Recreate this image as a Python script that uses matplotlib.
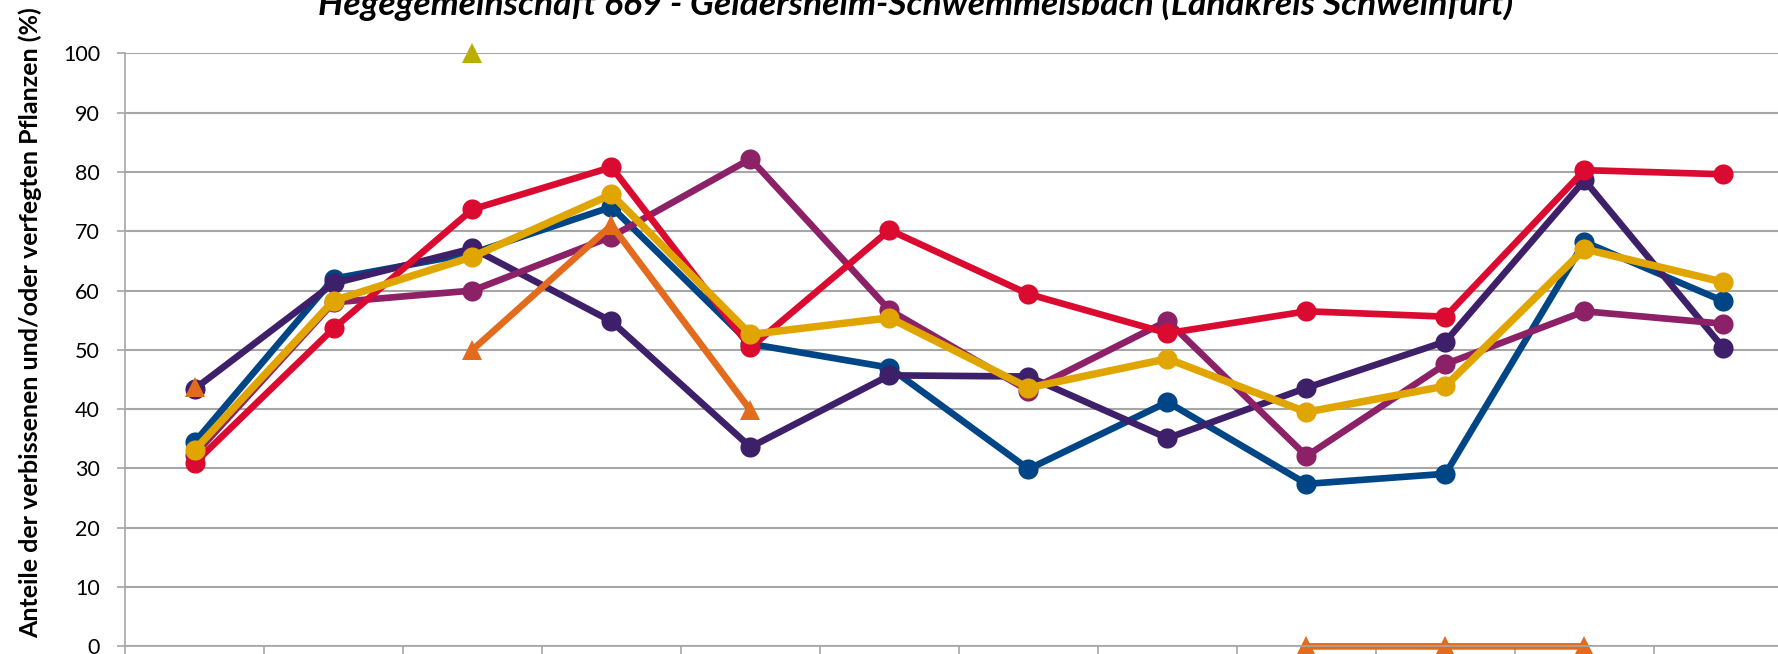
import numpy as np
import matplotlib
matplotlib.use("Agg")
import matplotlib.pyplot as plt

# Aufnahmejahre / Kategorien (Beschriftung im Original abgeschnitten)
kategorien = list(range(12))

# Anteile in % je Baumart (None = kein Wert)
blau = [34.4, 62.0, 66.3, 74.1, 51.0, 47.0, 29.9, 41.2, 27.4, 29.1, 68.2, 58.2]
violett = [43.4, 61.2, 67.1, 54.8, 33.6, 45.7, 45.5, 35.1, 43.6, 51.4, 78.6, 50.3]
magenta = [32.3, 58.0, 60.0, 69.1, 82.2, 56.7, 43.1, 54.9, 32.1, 47.6, 56.5, 54.4]
orange = [43.8, None, 50.0, 71.0, 39.8, None, None, None, 0.0, 0.0, 0.0, None]
oliv = [None, None, 100.0, None, None, None, None, None, None, None, None, None]
rot = [30.9, 53.6, 73.7, 80.8, 50.4, 70.2, 59.4, 52.8, 56.5, 55.6, 80.3, 79.6]
gold = [33.1, 58.3, 65.7, 76.2, 52.6, 55.4, 43.6, 48.5, 39.5, 43.9, 67.0, 61.4]

titel = "Hegegemeinschaft 669 - Geldersheim-Schwemmelsbach (Landkreis Schweinfurt)"
ylabel = "Anteile der verbissenen und/oder verfegten Pflanzen (%)"

reihen = [
    (blau, "#004586", "o", 4.8),
    (violett, "#3E1F69", "o", 4.8),
    (magenta, "#8C2167", "o", 4.8),
    (orange, "#E26B1E", "^", 4.8),
    (oliv, "#B9AE00", "^", 4.8),
    (rot, "#DA0A30", "o", 4.8),
    (gold, "#E1A500", "o", 5.4),
]

fig = plt.figure(figsize=(17.78, 6.54), dpi=100)
ax = fig.add_axes([125 / 1778, 7.6 / 654, 1668 / 1778, 593.1 / 654])

x = np.array(kategorien, dtype=float)
for werte, farbe, marker, lw in reihen:
    y = np.array([np.nan if v is None else v for v in werte])
    ax.plot(x, y, color=farbe, lw=lw, marker=marker, ms=14.5,
            markeredgewidth=0, clip_on=False)

ax.set_xlim(-0.5, 11.5)
ax.set_ylim(0, 100)
ax.set_yticks(range(0, 101, 10))
ax.set_xticks(np.arange(-0.5, 12, 1))
ax.set_xticklabels([])
ax.grid(axis="y", color="#A6A6A6", lw=1.5)
ax.set_axisbelow(True)
for s in ["top", "right"]:
    ax.spines[s].set_visible(False)
for s in ["left", "bottom"]:
    ax.spines[s].set_color("#A6A6A6")
    ax.spines[s].set_linewidth(1.2)
ax.tick_params(axis="both", color="#A6A6A6", length=6, width=1.2)
ax.tick_params(axis="y", labelsize=15.5, pad=12)
for lab in ax.get_yticklabels():
    lab.set_fontfamily(["Lato", "DejaVu Sans"])

fig.text(0.515, 1 - 15 / 654, titel, ha="center", va="baseline",
         fontsize=25.5, fontweight="bold", fontstyle="italic",
         family=["Lato", "DejaVu Sans"])
fig.text(30 / 1778, 1 - 323 / 654, ylabel, rotation=90, ha="center", va="center",
         fontsize=18, fontweight="bold", family=["Lato", "DejaVu Sans"])

fig.savefig("out.png", dpi=100)
